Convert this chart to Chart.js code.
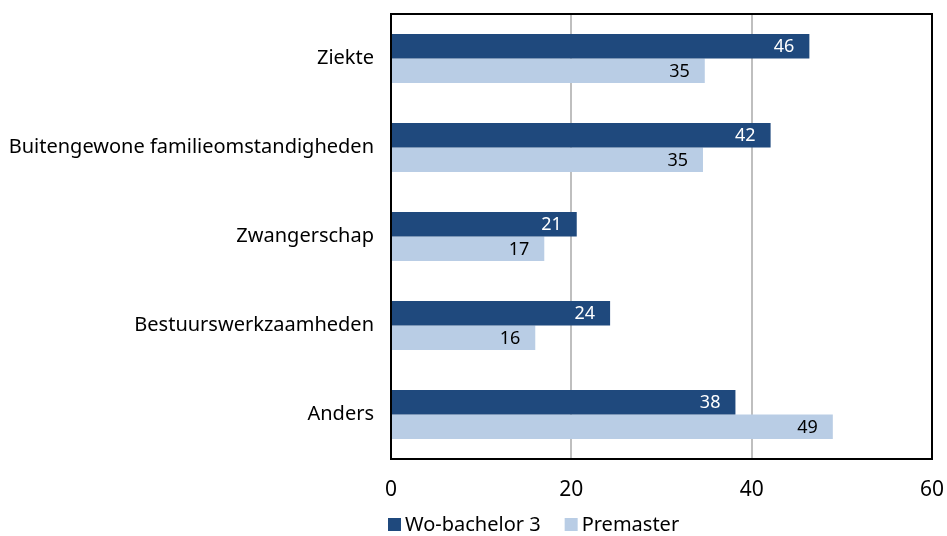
<!DOCTYPE html>
<html>
<head>
<meta charset="utf-8">
<script src="https://cdn.jsdelivr.net/npm/chart.js@4"></script>
<style>
  body { margin: 0; background: #fff; }
  #wrap { width: 947px; height: 536px; }
</style>
</head>
<body>
<div id="wrap"><canvas id="chart" width="947" height="536"></canvas></div>
<script>
// data
const categories = ["Ziekte", "Buitengewone familieomstandigheden", "Zwangerschap", "Bestuurswerkzaamheden", "Anders"];
const woBachelor = [46.4, 42.1, 20.6, 24.3, 38.2];
const premaster = [34.8, 34.6, 17.0, 16.0, 49.0];
const xTicks = [0, 20, 40, 60];

const FONT = "Noto Sans";

// drop the automatic label overhang padding so layout.padding is exact
function noOverhang(scale) {
  scale.paddingTop = 0;
  scale.paddingBottom = 0;
  scale.paddingLeft = 0;
  scale.paddingRight = 0;
}

// frame around plot area
const framePlugin = {
  id: "frame",
  afterDraw(chart) {
    const a = chart.chartArea;
    const ctx = chart.ctx;
    ctx.save();
    ctx.strokeStyle = "#000";
    ctx.lineWidth = 2;
    ctx.strokeRect(a.left, a.top, a.right - a.left, a.bottom - a.top);
    ctx.restore();
  }
};

// value labels at the inner end of each bar
const valueLabels = {
  id: "valueLabels",
  afterDatasetsDraw(chart) {
    const ctx = chart.ctx;
    ctx.save();
    ctx.font = "18px '" + FONT + "'";
    ctx.textAlign = "right";
    ctx.textBaseline = "middle";
    chart.data.datasets.forEach((ds, i) => {
      const meta = chart.getDatasetMeta(i);
      ctx.fillStyle = i === 0 ? "#fff" : "#000";
      meta.data.forEach((bar, j) => {
        ctx.fillText(Math.round(ds.data[j]).toString(), bar.x - 15, bar.y + 1);
      });
    });
    ctx.restore();
  }
};

// legend below the axis, starting under the plot's left edge
const bottomLegend = {
  id: "bottomLegend",
  afterDraw(chart) {
    const ctx = chart.ctx;
    ctx.save();
    ctx.font = "20px '" + FONT + "'";
    ctx.textBaseline = "middle";
    let x = chart.chartArea.left - 3;
    const y = 525;
    chart.data.datasets.forEach(ds => {
      ctx.fillStyle = ds.backgroundColor;
      ctx.fillRect(x, y - 7, 13, 13);
      x += 17;
      ctx.fillStyle = "#000";
      ctx.fillText(ds.label, x, y);
      x += ctx.measureText(ds.label).width + 24;
    });
    ctx.restore();
  }
};

new Chart(document.getElementById("chart").getContext("2d"), {
  type: "bar",
  data: {
    labels: categories,
    datasets: [
      {
        label: "Wo-bachelor 3",
        data: woBachelor,
        backgroundColor: "#1F497D",
        categoryPercentage: 0.55,
        barPercentage: 1.0,
      },
      {
        label: "Premaster",
        data: premaster,
        backgroundColor: "#B9CDE5",
        categoryPercentage: 0.55,
        barPercentage: 1.0,
      },
    ],
  },
  options: {
    indexAxis: "y",
    responsive: false,
    animation: false,
    layout: { padding: { top: 14, right: 15, left: 0, bottom: 34 } },
    plugins: {
      legend: { display: false },
      tooltip: { enabled: false },
    },
    scales: {
      x: {
        min: 0,
        max: 60,
        afterBuildTicks(scale) {
          scale.ticks = xTicks.map(v => ({ value: v }));
        },
        afterFit(scale) {
          noOverhang(scale);
          scale.height = 43;
        },
        grid: { color: "#BFBFBF", lineWidth: 2, drawTicks: false },
        border: { display: false },
        ticks: {
          font: { family: FONT, size: 21 },
          color: "#000",
          padding: 18,
        },
      },
      y: {
        grid: { display: false, drawTicks: false },
        border: { display: false },
        afterFit(scale) {
          noOverhang(scale);
          scale.width = 391;
        },
        ticks: {
          font: { family: FONT, size: 20 },
          color: "#000",
          padding: 17,
        },
      },
    },
  },
  plugins: [framePlugin, valueLabels, bottomLegend],
});
</script>
</body>
</html>
